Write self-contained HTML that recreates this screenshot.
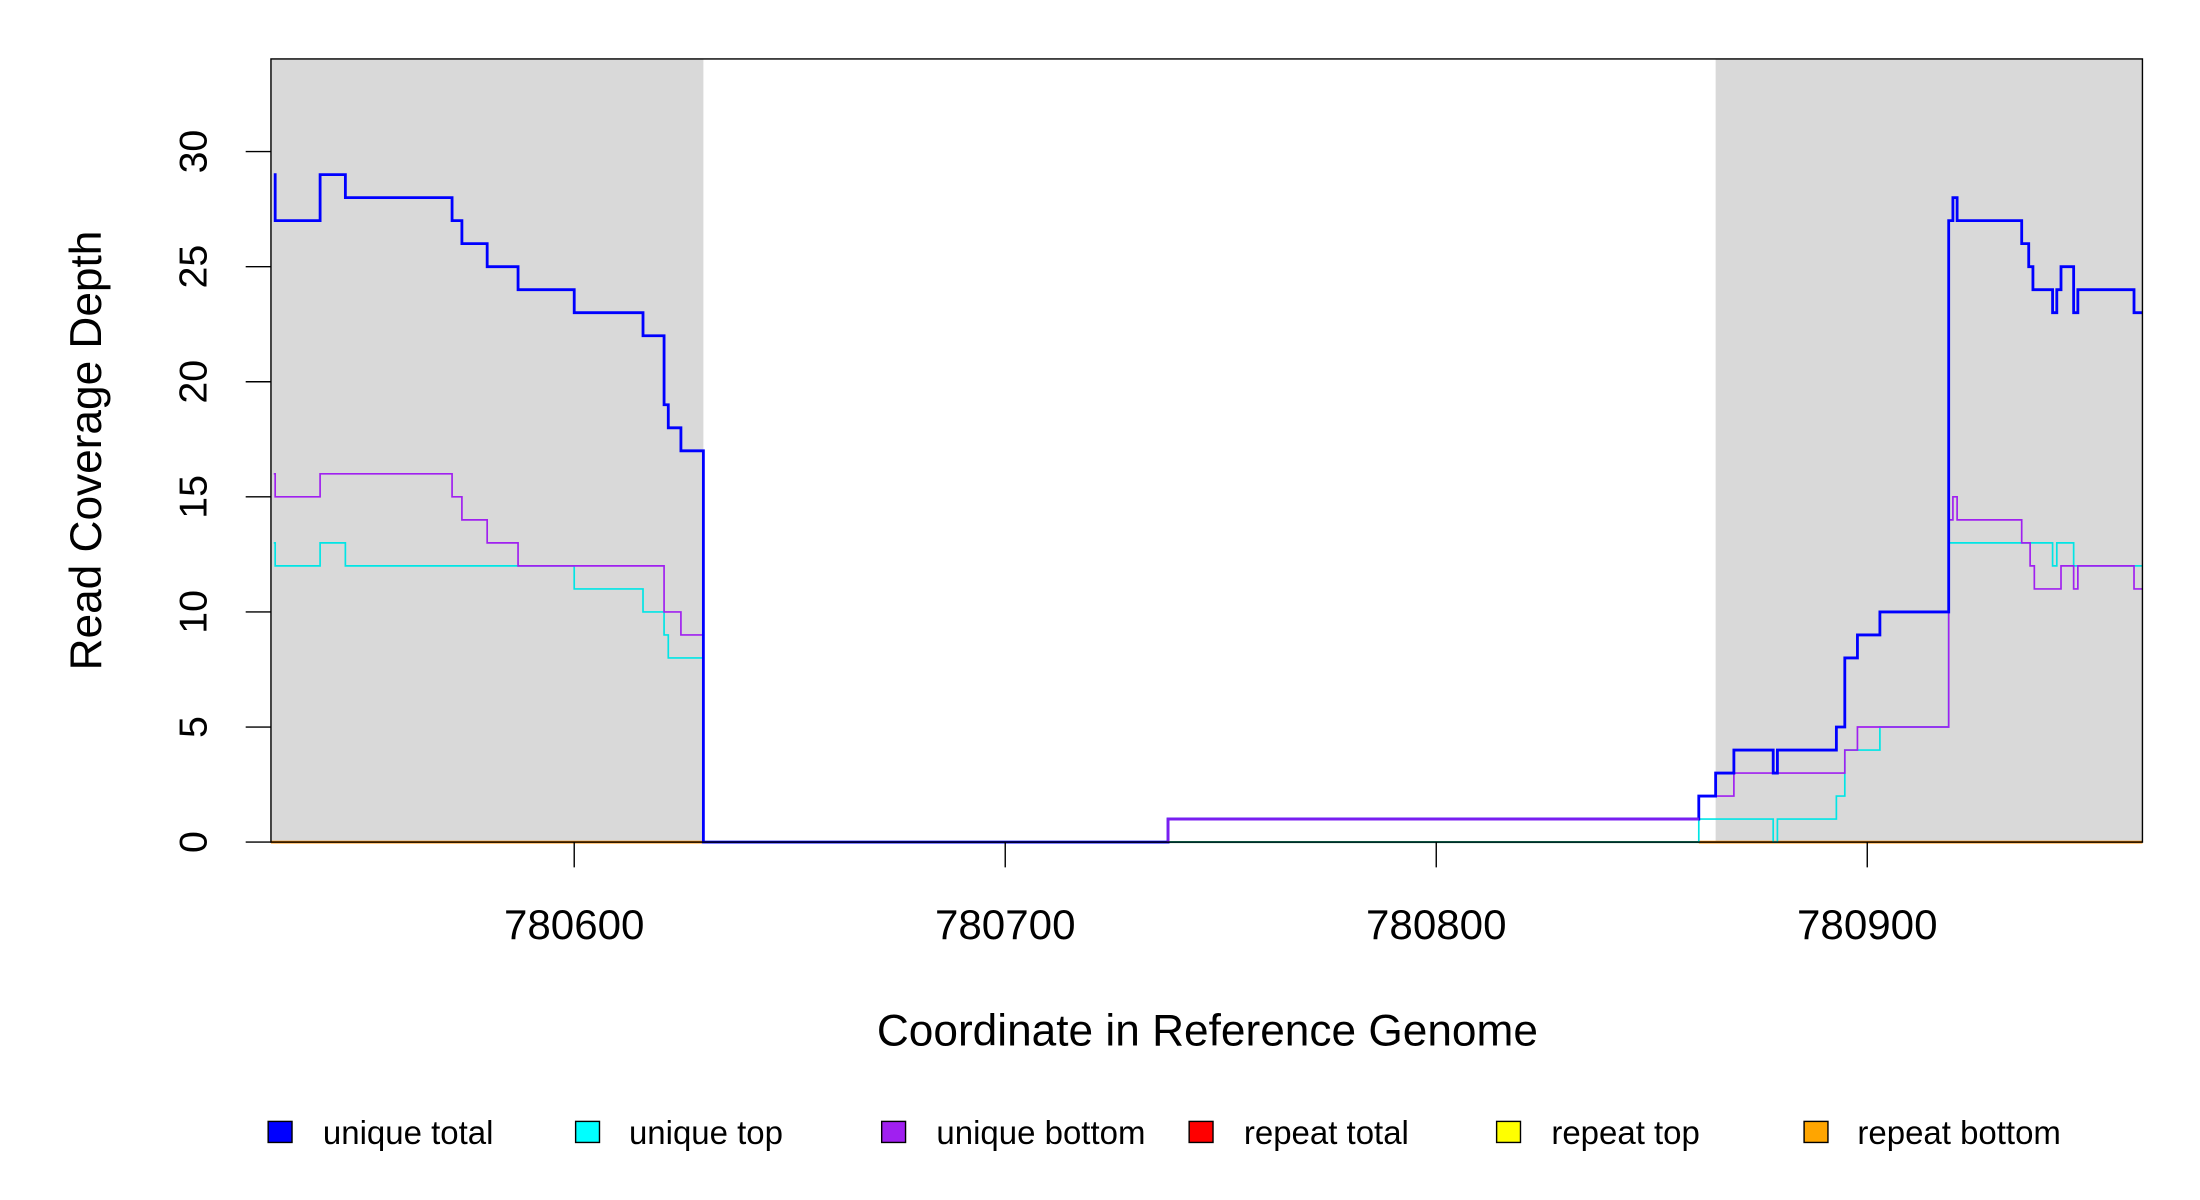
<!DOCTYPE html>
<html><head><meta charset="utf-8"><style>html,body{margin:0;padding:0;background:#fff}svg{display:block}</style></head>
<body>
<svg width="2200" height="1200" viewBox="0 0 1567 855" preserveAspectRatio="none" xmlns="http://www.w3.org/2000/svg" font-family="Liberation Sans, sans-serif">
<rect x="193" y="42" width="308" height="558" fill="#d9d9d9"/>
<rect x="1222" y="42" width="304" height="558" fill="#d9d9d9"/>
<line x1="501" y1="600" x2="832" y2="600" stroke="#5566cc" stroke-width="2"/>
<line x1="832" y1="600" x2="1210" y2="600" stroke="#44aa44" stroke-width="1.5"/>
<line x1="193" y1="600" x2="501" y2="600" stroke="#ff8c00" stroke-width="2"/>
<line x1="1210" y1="600" x2="1526" y2="600" stroke="#ff8c00" stroke-width="2"/>
<polyline fill="none" stroke="#00e5e5" stroke-width="1.2" points="195,386.8 196,386.8 196,403.2 228,403.2 228,386.8 246,386.8 246,403.2 409,403.2 409,419.6 458,419.6 458,436 473,436 473,452.4 476,452.4 476,468.8 501,468.8 501,600 1210,600 1210,583.6 1263,583.6 1263,600 1266,600 1266,583.6 1308,583.6 1308,567.2 1314,567.2 1314,534.4 1339,534.4 1339,518 1388,518 1388,386.8 1462,386.8 1462,403.2 1465,403.2 1465,386.8 1477,386.8 1477,403.2 1526,403.2"/>
<polyline fill="none" stroke="#a020f0" stroke-width="1.2" points="195,337.6 196,337.6 196,354 228,354 228,337.6 322,337.6 322,354 329,354 329,370.4 347,370.4 347,386.8 369,386.8 369,403.2 473,403.2 473,436 485,436 485,452.4 501,452.4 501,600 832,600 832,583.6 1210,583.6 1210,567.2 1235,567.2 1235,550.8 1314,550.8 1314,534.4 1323,534.4 1323,518 1388,518 1388,370.4 1391,370.4 1391,354 1394,354 1394,370.4 1440,370.4 1440,386.8 1446,386.8 1446,403.2 1449,403.2 1449,419.6 1468,419.6 1468,403.2 1477,403.2 1477,419.6 1480,419.6 1480,403.2 1520,403.2 1520,419.6 1526,419.6"/>
<polyline fill="none" stroke="#0000ff" stroke-width="2" points="195,124.4 196,124.4 196,157.2 228,157.2 228,124.4 246,124.4 246,140.8 322,140.8 322,157.2 329,157.2 329,173.6 347,173.6 347,190 369,190 369,206.4 409,206.4 409,222.8 458,222.8 458,239.2 473,239.2 473,288.4 476,288.4 476,304.8 485,304.8 485,321.2 501,321.2 501,600 832,600 832,583.6 1210,583.6 1210,567.2 1222,567.2 1222,550.8 1235,550.8 1235,534.4 1263,534.4 1263,550.8 1266,550.8 1266,534.4 1308,534.4 1308,518 1314,518 1314,468.8 1323,468.8 1323,452.4 1339,452.4 1339,436 1388,436 1388,157.2 1391,157.2 1391,140.8 1394,140.8 1394,157.2 1440,157.2 1440,173.6 1445,173.6 1445,190 1448,190 1448,206.4 1462,206.4 1462,222.8 1465,222.8 1465,206.4 1468,206.4 1468,190 1477,190 1477,222.8 1480,222.8 1480,206.4 1520,206.4 1520,222.8 1526,222.8"/>
<polyline fill="none" stroke="#7a1ef0" stroke-width="2" points="832,600 832,583.6 1210,583.6"/>
<rect x="193" y="42" width="1333" height="558" fill="none" stroke="#000" stroke-width="1"/>
<g stroke="#000" stroke-width="1">
<line x1="175" y1="600" x2="193" y2="600"/><line x1="175" y1="518" x2="193" y2="518"/><line x1="175" y1="436" x2="193" y2="436"/><line x1="175" y1="354" x2="193" y2="354"/><line x1="175" y1="272" x2="193" y2="272"/><line x1="175" y1="190" x2="193" y2="190"/><line x1="175" y1="108" x2="193" y2="108"/>
<line x1="409" y1="600" x2="409" y2="618"/><line x1="716" y1="600" x2="716" y2="618"/><line x1="1023" y1="600" x2="1023" y2="618"/><line x1="1330" y1="600" x2="1330" y2="618"/>
</g>
<g font-size="28" text-anchor="middle" fill="#000">
<text transform="translate(147,600) rotate(-90)">0</text>
<text transform="translate(147,518) rotate(-90)">5</text>
<text transform="translate(147,436) rotate(-90)">10</text>
<text transform="translate(147,354) rotate(-90)">15</text>
<text transform="translate(147,272) rotate(-90)">20</text>
<text transform="translate(147,190) rotate(-90)">25</text>
<text transform="translate(147,108) rotate(-90)">30</text>
<g font-size="30">
<text x="409" y="669">780600</text><text x="716" y="669">780700</text><text x="1023" y="669">780800</text><text x="1330" y="669">780900</text>
</g>
<text x="860" y="745" font-size="31.5">Coordinate in Reference Genome</text>
<text transform="translate(72,321) rotate(-90)" font-size="31.5">Read Coverage Depth</text>
</g>
<g font-size="23.5" fill="#000" stroke-width="1">
<rect x="191" y="799" width="17" height="15" fill="#0000ff" stroke="#000"/><text x="230" y="815">unique total</text>
<rect x="410" y="799" width="17" height="15" fill="#00ffff" stroke="#000"/><text x="448" y="815">unique top</text>
<rect x="628" y="799" width="17" height="15" fill="#a020f0" stroke="#000"/><text x="667" y="815">unique bottom</text>
<rect x="847" y="799" width="17" height="15" fill="#ff0000" stroke="#000"/><text x="886" y="815">repeat total</text>
<rect x="1066" y="799" width="17" height="15" fill="#ffff00" stroke="#000"/><text x="1105" y="815">repeat top</text>
<rect x="1285" y="799" width="17" height="15" fill="#ffa500" stroke="#000"/><text x="1323" y="815">repeat bottom</text>
</g>
</svg>
</body></html>
